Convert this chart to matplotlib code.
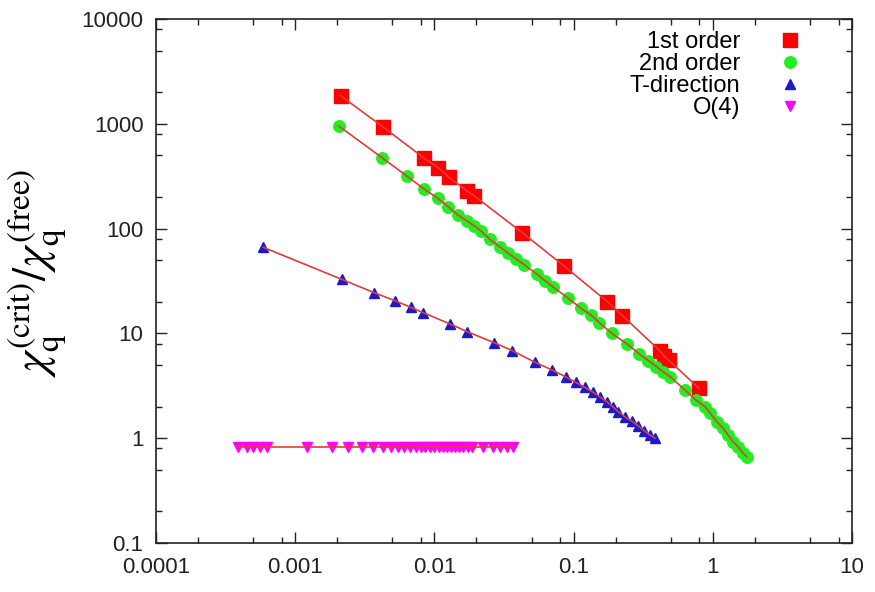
import matplotlib
matplotlib.use("Agg")
import matplotlib.pyplot as plt
from matplotlib.ticker import LogLocator, NullFormatter, FixedFormatter, FixedLocator

plt.rcParams["font.family"] = ["Liberation Sans", "DejaVu Sans"]
plt.rcParams["mathtext.fontset"] = "stix"

# 1st order (red squares)
x1 = [0.00212, 0.00425, 0.00846, 0.01067, 0.01273, 0.01706, 0.01925, 0.0428,
      0.0853, 0.1746, 0.224, 0.418, 0.448, 0.481, 0.796]
y1 = [1854, 938, 469, 381, 309, 230, 206, 91.4, 44.0, 20.1, 14.8, 6.79, 6.09, 5.57, 2.99]

# 2nd order (green circles)
x2 = [0.002053, 0.004204, 0.006324, 0.008419, 0.01056, 0.01259, 0.01472, 0.01714,
      0.01941, 0.02163, 0.02506, 0.02936, 0.03396, 0.03869, 0.04436, 0.05433,
      0.0623, 0.07079, 0.09163, 0.113, 0.1333, 0.153, 0.1878, 0.243, 0.2965,
      0.344, 0.394, 0.4423, 0.4966, 0.631, 0.757, 0.879, 0.955, 1.067, 1.184,
      1.285, 1.397, 1.517, 1.648, 1.752]
y2 = [953, 475, 318, 239, 194.5, 161.8, 134.9, 118.2, 105.9, 94.8, 79.0, 67.2,
      58.1, 51.3, 45.0, 36.9, 31.8, 27.9, 21.6, 17.36, 14.98, 12.65, 10.02, 7.92,
      6.36, 5.51, 4.83, 4.28, 3.84, 2.88, 2.31, 2.00, 1.74, 1.437, 1.251, 1.074,
      0.927, 0.830, 0.723, 0.666]

# T-direction (blue triangles)
x3 = [0.00059, 0.002158, 0.003681, 0.005212, 0.006755, 0.008318, 0.01294, 0.01724,
      0.02692, 0.03631, 0.05281, 0.07, 0.08752, 0.1032, 0.1208, 0.1377, 0.1549,
      0.173, 0.191, 0.2094, 0.2338, 0.2612, 0.2917, 0.3206, 0.354, 0.3846]
y3 = [66.3, 32.8, 24.5, 20.5, 17.74, 15.76, 12.30, 10.38, 8.15, 6.84, 5.30, 4.48,
      3.86, 3.42, 3.05, 2.75, 2.47, 2.23, 2.00, 1.79, 1.60, 1.46, 1.307, 1.18,
      1.074, 0.997]

# O(4) (magenta down triangles)
x4 = [0.00039, 0.000448, 0.0005, 0.000558, 0.000624, 0.00121, 0.001828, 0.002407,
      0.003034, 0.003604, 0.004251, 0.004853, 0.005504, 0.006081, 0.006678,
      0.007379, 0.007973, 0.008603, 0.00929, 0.009984, 0.01074, 0.01147, 0.01225,
      0.01309, 0.01406, 0.01503, 0.01612, 0.01734, 0.01854, 0.02243, 0.02625,
      0.02958, 0.03303, 0.0369]
y4 = [0.82] * len(x4)

LINE = "#e33b3b"

fig = plt.figure(figsize=(8.75, 5.92), dpi=100)
ax = fig.add_axes([156 / 875, 1 - 543 / 592, 696 / 875, 524 / 592])

ax.plot(x1, y1, ls="none", marker="s", ms=10, color="#ff0000", mec="#ff0000", label="1st order", zorder=3)
ax.plot(x2, y2, ls="none", marker="o", ms=8.3, color="#22ee22", mec="#22ee22", label="2nd order", zorder=3)
ax.plot(x3, y3, ls="none", marker="^", ms=7.8, color="#1a1acc", mec="#1a1acc", label="T-direction", zorder=3)
ax.plot(x4, y4, ls="none", marker="v", ms=7.8, color="#ff00ff", mec="#ff00ff", label="O(4)", zorder=3)
for xs, ys in [(x1, y1), (x2, y2), (x3, y3), (x4, y4)]:
    ax.plot(xs, ys, color=LINE, lw=1.2, zorder=4)

ax.set_xscale("log"); ax.set_yscale("log")
ax.set_xlim(1e-4, 10); ax.set_ylim(0.1, 1e4)

xt = [1e-4, 1e-3, 1e-2, 1e-1, 1, 10]
xl = ["0.0001", "0.001", "0.01", "0.1", "1", "10"]
yt = [0.1, 1, 10, 100, 1000, 10000]
yl = ["0.1", "1", "10", "100", "1000", "10000"]
ax.xaxis.set_major_locator(FixedLocator(xt)); ax.xaxis.set_major_formatter(FixedFormatter(xl))
ax.yaxis.set_major_locator(FixedLocator(yt)); ax.yaxis.set_major_formatter(FixedFormatter(yl))
ax.xaxis.set_minor_locator(LogLocator(base=10, subs=(2, 5, 8)))
ax.yaxis.set_minor_locator(LogLocator(base=10, subs=(2, 5, 8)))
ax.xaxis.set_minor_formatter(NullFormatter()); ax.yaxis.set_minor_formatter(NullFormatter())
ax.tick_params(which="both", direction="in", top=True, right=True, colors="#222", labelcolor="#222")
ax.tick_params(which="major", length=8, width=1, labelsize=16)
ax.tick_params(axis="x", which="major", pad=10)
ax.tick_params(axis="y", which="major", pad=9)
ax.tick_params(which="minor", length=4, width=1)
for s in ax.spines.values():
    s.set_linewidth(1.2); s.set_color("#222")

ax.set_ylabel(r"$\chi_{\mathrm{q}}^{\mathrm{(crit)}}/\chi_{\mathrm{q}}^{\mathrm{(free)}}$", fontsize=34)
ax.yaxis.set_label_coords(-0.125, 0.515)

ax.legend(loc="upper right", bbox_to_anchor=(804 / 875, 1 - 31 / 592), bbox_transform=fig.transFigure,
          frameon=False, markerfirst=False, fontsize=17, handlelength=1.2, handletextpad=1.5,
          labelspacing=0.0, borderpad=0, borderaxespad=0)

fig.savefig("out.png", dpi=100)
